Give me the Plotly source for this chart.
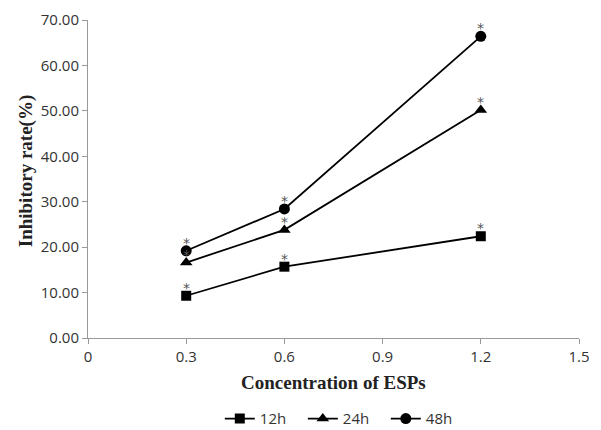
import plotly.graph_objects as go

conc = [0.3, 0.6, 1.2]
series_names = ["12h", "24h", "48h"]
rate_12h = [9.3, 15.7, 22.4]
rate_24h = [16.6, 23.8, 50.2]
rate_48h = [19.2, 28.4, 66.4]
symbols = ["square", "triangle-up", "circle"]
marker_sizes = [10, 11, 11]
x_ticks = [0, 0.3, 0.6, 0.9, 1.2, 1.5]
x_tick_labels = ["0", "0.3", "0.6", "0.9", "1.2", "1.5"]
y_ticks = [0, 10, 20, 30, 40, 50, 60, 70]
y_tick_labels = ["0.00", "10.00", "20.00", "30.00", "40.00", "50.00", "60.00", "70.00"]

W, H = 601, 430
L, R, T, B = 88, 22, 19.5, 92
plot_h = H - T - B

fig = go.Figure()
for name, vals, sym, ms in zip(series_names, [rate_12h, rate_24h, rate_48h], symbols, marker_sizes):
    fig.add_trace(go.Scatter(
        x=conc, y=vals, name=name, mode="lines+markers",
        line=dict(color="black", width=1.8),
        marker=dict(symbol=sym, size=ms, color="black"),
    ))
    for xv, yv in zip(conc, vals):
        fig.add_annotation(x=xv, y=yv, xref="x", yref="y", text="*",
                           showarrow=False, yshift=8,
                           font=dict(family="DejaVu Sans", size=14, color="#555555"))

# axis titles as paper annotations for exact placement
fig.add_annotation(x=0.5, xref="paper", y=-45 / plot_h, yref="paper",
                   text="<b>Concentration of ESPs</b>", showarrow=False,
                   xanchor="center", yanchor="middle",
                   font=dict(family="Liberation Serif", size=19, color="#222222"))
fig.add_annotation(x=-(L - 26) / (W - L - R), xref="paper", y=(H - B - 171) / plot_h, yref="paper",
                   text="<b>Inhibitory rate(%)</b>", showarrow=False, textangle=-90,
                   xanchor="center", yanchor="middle",
                   font=dict(family="Liberation Serif", size=19, color="#222222"))

fig.update_layout(
    width=W, height=H,
    margin=dict(l=L, r=R, t=T, b=B, autoexpand=False),
    paper_bgcolor="white", plot_bgcolor="white",
    showlegend=True,
    legend=dict(orientation="h", x=0.522, xanchor="center", y=-81 / plot_h, yanchor="middle",
                font=dict(family="Open Sans", size=15, color="#333333"),
                entrywidth=38, tracegroupgap=0),
    font=dict(family="Open Sans", size=15, color="#333333"),
)
fig.update_xaxes(
    range=[0, 1.5], tickvals=x_ticks, ticktext=x_tick_labels, automargin=False,
    showline=True, linecolor="#999999", linewidth=1, ticks="outside",
    tickcolor="#999999", ticklen=5, showgrid=False, zeroline=False,
    tickfont=dict(family="Open Sans", size=15, color="#333333"),
)
fig.update_yaxes(
    range=[0, 70], tickvals=y_ticks, ticktext=y_tick_labels, automargin=False,
    showline=True, linecolor="#999999", linewidth=1, ticks="outside",
    tickcolor="#999999", ticklen=5, showgrid=False, zeroline=False,
    tickfont=dict(family="Open Sans", size=15, color="#333333"),
)
fig.write_html("out.html", config={"displayModeBar": False},
               post_script="document.body.style.margin='0';document.body.style.overflow='hidden';")
